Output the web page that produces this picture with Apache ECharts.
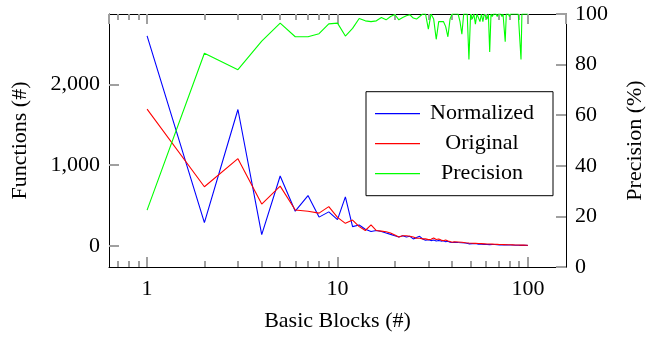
<!DOCTYPE html>
<html>
<head>
<meta charset="utf-8">
<script src="https://cdn.jsdelivr.net/npm/echarts@6/dist/echarts.min.js"></script>
<style>
  html, body { margin: 0; padding: 0; background: #fff; }
  #chart { width: 659px; height: 337px; }
</style>
</head>
<body>
<div id="chart"></div>
<script>
const blocks = [
  1, 2, 3, 4, 5, 6, 7, 8, 9, 10, 11, 12, 13, 14, 15, 16, 17, 18, 19, 20,
  21, 22, 23, 24, 25, 26, 27, 28, 29, 30, 31, 32, 33, 34, 35, 36, 37, 38, 39, 40,
  41, 42, 43, 44, 45, 46, 47, 48, 49, 50, 51, 52, 53, 54, 55, 56, 57, 58, 59, 60,
  61, 62, 63, 64, 65, 66, 67, 68, 69, 70, 71, 72, 73, 74, 75, 76, 77, 78, 79, 80,
  81, 82, 83, 84, 85, 86, 87, 88, 89, 90, 91, 92, 93, 94, 95, 96, 97, 98, 99, 100
];

const normalized = [
  2601, 287, 1688, 137, 864, 428, 622, 355, 420, 323, 606, 237, 258, 205, 177, 189, 177, 157, 141, 125,
  109, 125, 109, 117, 85, 101, 117, 85, 68, 76, 64, 72, 60, 66, 58, 62, 50, 56, 44, 40,
  44, 36, 40, 34, 38, 30, 34, 28, 24, 30, 26, 22, 28, 24, 20, 22, 18, 20, 17, 19,
  16, 18, 14, 16, 15, 13, 15, 12, 14, 12, 11, 13, 10, 12, 10, 9, 11, 9, 10, 8,
  9, 8, 9, 7, 8, 7, 8, 6, 7, 6, 7, 5, 6, 5, 6, 5, 4, 5, 4, 4
];

const original = [
  1693, 731, 1079, 517, 739, 444, 428, 404, 485, 351, 278, 318, 237, 189, 258, 189, 181, 173, 157, 133,
  109, 125, 125, 117, 109, 93, 93, 85, 85, 76, 80, 97, 78, 84, 70, 62, 72, 58, 52, 44,
  48, 42, 46, 40, 44, 36, 38, 32, 34, 30, 32, 28, 30, 26, 28, 24, 26, 22, 24, 21,
  22, 20, 21, 18, 20, 17, 18, 16, 17, 15, 16, 14, 15, 13, 14, 12, 13, 12, 12, 11,
  12, 10, 11, 10, 10, 9, 10, 9, 9, 8, 9, 8, 8, 7, 8, 7, 7, 6, 7, 6
];

const precision = [
  22.5, 84.5, 78, 89.3, 96.4, 91, 91, 92.2, 96.1, 96.4, 91.3, 94.3, 98.2, 97.3, 97, 97.3, 98.6, 97.7, 99, 99.8,
  97.7, 98.6, 99.3, 99.7, 98.4, 98, 99, 100, 100, 94, 100, 98, 90, 97, 97, 97, 95, 91, 98, 100,
  100, 100, 100, 97, 92, 100, 100, 100, 82, 100, 98, 100, 96, 100, 100, 97, 100, 97, 100, 100,
  98, 100, 85, 100, 99, 100, 100, 100, 99, 100, 100, 100, 99, 100, 100, 89, 100, 100, 100, 99,
  100, 100, 100, 100, 100, 100, 100, 100, 100, 100, 100, 82, 100, 100, 100, 100, 100, 100, 100, 100
];

// minor ticks of the log axis (pgfplots style)
const xMinorTicks = [0.7, 0.8, 0.9, 2, 3, 4, 5, 6, 7, 8, 9, 20, 30, 40, 50, 60, 70, 80, 90];

const FONT = "Liberation Serif";
const FS = 22;
const TICK = { color: "#a0a0a0", width: 2 };
const FRAME = { show: true, onZero: false, lineStyle: { color: "#000", width: 1 } };

const chart = echarts.init(document.getElementById("chart"));

function pairs(ys) {
  return blocks.map((x, i) => [x, ys[i]]);
}

function xAxisDef(position, major, labels) {
  const ax = {
    type: "log",
    logBase: 10,
    position: position,
    min: 0.631,
    max: 158.5,
    axisLine: major ? FRAME : { show: false, onZero: false },
    splitLine: { show: false },
    minorTick: { show: false },
    axisTick: {
      show: true,
      inside: true,
      length: major ? 10 : 6,
      lineStyle: TICK
    },
    axisLabel: {
      show: labels,
      showMinLabel: false,
      showMaxLabel: false,
      margin: 11,
      color: "#000",
      fontFamily: FONT,
      fontSize: FS,
      formatter: (v) => String(Math.round(v))
    }
  };
  if (!major) {
    ax.axisTick.customValues = xMinorTicks;
  }
  return ax;
}

const xAxes = [
  xAxisDef("bottom", true, true),
  xAxisDef("bottom", false, false),
  xAxisDef("top", true, false),
  xAxisDef("top", false, false)
];
xAxes[0].name = "Basic Blocks (#)";
xAxes[0].nameLocation = "middle";
xAxes[0].nameGap = 43;
xAxes[0].nameTextStyle = { color: "#000", fontFamily: FONT, fontSize: FS };

const option = {
  animation: false,
  backgroundColor: "#fff",
  grid: {
    left: 109,
    right: 93,
    top: 14,
    bottom: 64,
    show: false
  },
  legend: {
    left: 366,
    top: 91.7,
    orient: "vertical",
    data: ["Normalized", "Original", "Precision"],
    icon: "rect",
    backgroundColor: "#fff",
    borderColor: "#000",
    borderWidth: 1,
    borderRadius: 0,
    padding: [11, 14, 11, 9],
    itemWidth: 45,
    itemHeight: 1.3,
    itemGap: 8,
    formatter: "{t|{name}}",
    textStyle: {
      color: "#000",
      fontFamily: FONT,
      fontSize: FS,
      rich: {
        t: { width: 114, align: "center", lineHeight: 22, fontFamily: FONT, fontSize: FS }
      }
    }
  },
  xAxis: xAxes,
  yAxis: [
    {
      type: "value",
      position: "left",
      min: -263,
      max: 2871,
      splitNumber: 3,
      name: "Functions (#)",
      nameLocation: "middle",
      nameGap: 78,
      nameTextStyle: { color: "#000", fontFamily: FONT, fontSize: FS },
      axisLine: FRAME,
      splitLine: { show: false },
      axisTick: { show: true, inside: true, length: 10, lineStyle: TICK },
      axisLabel: {
        showMinLabel: false,
        showMaxLabel: false,
        margin: 9,
        padding: [5, 0, 0, 0],
        color: "#000",
        fontFamily: FONT,
        fontSize: FS,
        formatter: (v) => v.toLocaleString("en-US")
      }
    },
    {
      type: "value",
      position: "right",
      min: 0,
      max: 100,
      interval: 20,
      name: "Precision (%)",
      nameLocation: "middle",
      nameGap: 58,
      nameTextStyle: { color: "#000", fontFamily: FONT, fontSize: FS },
      axisLine: FRAME,
      splitLine: { show: false },
      axisTick: { show: true, inside: true, length: 10, lineStyle: TICK },
      axisLabel: {
        margin: 9,
        padding: [5, 0, 0, 0],
        color: "#000",
        fontFamily: FONT,
        fontSize: FS
      }
    }
  ],
  series: [
    {
      name: "Normalized",
      type: "line",
      xAxisIndex: 0,
      yAxisIndex: 0,
      data: pairs(normalized),
      symbol: "none",
      color: "#0000ff",
      lineStyle: { color: "#0000ff", width: 1.1 }
    },
    {
      name: "Original",
      type: "line",
      xAxisIndex: 0,
      yAxisIndex: 0,
      data: pairs(original),
      symbol: "none",
      color: "#ff0000",
      lineStyle: { color: "#ff0000", width: 1.1 }
    },
    {
      name: "Precision",
      type: "line",
      xAxisIndex: 0,
      yAxisIndex: 1,
      data: pairs(precision),
      symbol: "none",
      color: "#00ff00",
      lineStyle: { color: "#00ff00", width: 1.1 }
    }
  ]
};

chart.setOption(option);
</script>
</body>
</html>
